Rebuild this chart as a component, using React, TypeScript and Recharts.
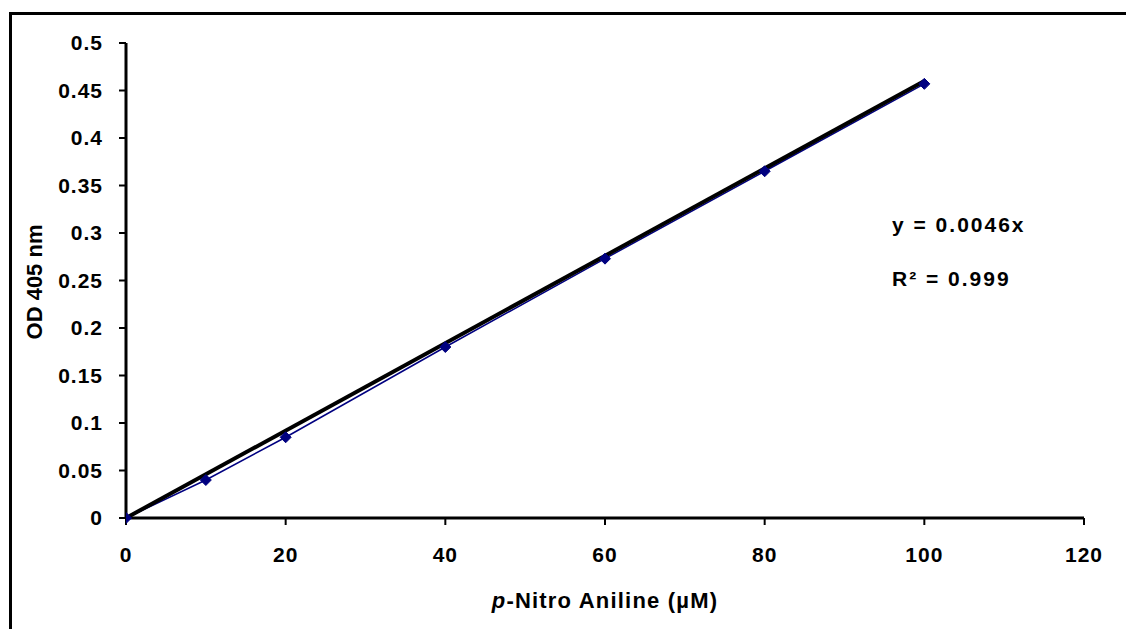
import { LineChart, Line, XAxis, YAxis } from "recharts";

const concentrations = [0, 10, 20, 40, 60, 80, 100];
const odValues = [0, 0.04, 0.085, 0.18, 0.273, 0.365, 0.457];

// linear trendline y = 0.0046x, end points
const trendX = [0, 100];
const trendY = [0, 0.46];

const xTicks = [0, 20, 40, 60, 80, 100, 120];
const yTicks = [0, 0.05, 0.1, 0.15, 0.2, 0.25, 0.3, 0.35, 0.4, 0.45, 0.5];

const measured = concentrations.map((x, i) => ({ x, od: odValues[i] }));
const trend = trendX.map((x, i) => ({ x, fit: trendY[i] }));

const FONT = '"Liberation Sans", Arial, sans-serif';

const Diamond = (props: any) => {
  const { cx, cy, index } = props;
  if (cx == null || cy == null) return null;
  const r = 5.5;
  return (
    <path
      key={`d-${index}`}
      d={`M${cx},${cy - r}L${cx + r},${cy}L${cx},${cy + r}L${cx - r},${cy}Z`}
      fill="#000080"
      stroke="#000080"
    />
  );
};

const XLabel = (props: any) => {
  const vb = props.viewBox || {};
  const cx = vb.x + vb.width / 2;
  return (
    <text
      x={cx}
      y={608}
      textAnchor="middle"
      fontFamily={FONT}
      fontWeight="bold"
      fontSize={22}
      letterSpacing={1.2}
      fill="#000"
    >
      <tspan fontStyle="italic">p</tspan>-Nitro Aniline (µM)
    </text>
  );
};

const YLabel = () => (
  <text
    x={42}
    y={282}
    textAnchor="middle"
    transform="rotate(-90, 42, 282)"
    fontFamily={FONT}
    fontWeight="bold"
    fontSize={22}
    fill="#000"
  >
    OD 405 nm
  </text>
);

const tickStyle = {
  fontFamily: FONT,
  fontWeight: "bold",
  fontSize: 21,
  fill: "#000",
  letterSpacing: 1,
};

export default function App() {
  return (
    <div
      style={{
        position: "absolute",
        top: 0,
        left: 0,
        width: 1126,
        height: 629,
        overflow: "hidden",
        background: "#fff",
      }}
    >
      <div
        style={{
          position: "absolute",
          left: 9,
          top: 12,
          width: 1200,
          height: 700,
          borderTop: "3.5px solid #000",
          borderLeft: "3.5px solid #000",
        }}
      />
      <div style={{ position: "absolute", left: 0, top: 0 }}>
        <LineChart
          width={1126}
          height={629}
          margin={{ top: 43, right: 42, bottom: 0, left: 0 }}
        >
          <XAxis
            type="number"
            dataKey="x"
            domain={[0, 120]}
            ticks={xTicks}
            allowDataOverflow
            height={111}
            tickSize={7}
            tickMargin={22}
            tick={tickStyle}
            axisLine={{ stroke: "#000", strokeWidth: 3 }}
            tickLine={{ stroke: "#000", strokeWidth: 2 }}
            label={<XLabel />}
          />
          <YAxis
            type="number"
            domain={[0, 0.5]}
            ticks={yTicks}
            width={126}
            tickSize={7}
            tickMargin={16}
            tick={tickStyle}
            axisLine={{ stroke: "#000", strokeWidth: 3 }}
            tickLine={{ stroke: "#000", strokeWidth: 2 }}
            label={<YLabel />}
          />
          <Line
            data={measured}
            dataKey="od"
            type="linear"
            stroke="#000080"
            strokeWidth={1.5}
            dot={<Diamond />}
            activeDot={false}
            isAnimationActive={false}
          />
          <Line
            data={trend}
            dataKey="fit"
            type="linear"
            stroke="#000"
            strokeWidth={4}
            dot={false}
            activeDot={false}
            isAnimationActive={false}
          />
        </LineChart>
      </div>
      <svg
        width={1126}
        height={629}
        style={{ position: "absolute", left: 0, top: 0, pointerEvents: "none" }}
      >
        <text
          x={892}
          y={232}
          fontFamily={FONT}
          fontWeight="bold"
          fontSize={21}
          letterSpacing={2}
          fill="#000"
        >
          y = 0.0046x
        </text>
        <text
          x={892}
          y={286}
          fontFamily={FONT}
          fontWeight="bold"
          fontSize={21}
          letterSpacing={2}
          fill="#000"
        >
          R² = 0.999
        </text>
      </svg>
    </div>
  );
}
